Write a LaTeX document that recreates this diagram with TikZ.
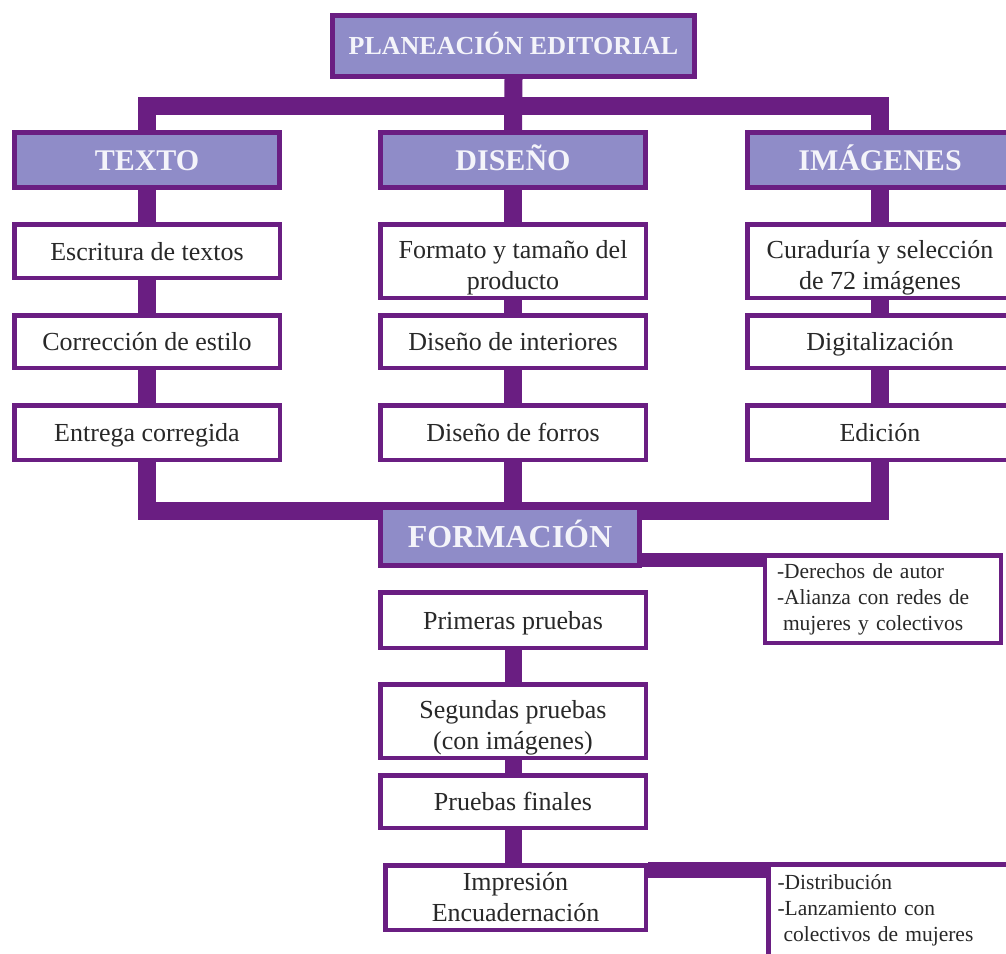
\documentclass[tikz,border=0pt]{standalone}
\usepackage{fontspec}
\setmainfont{Liberation Serif}
\definecolor{purp}{RGB}{106,30,130}
\definecolor{lav}{RGB}{143,140,200}
\definecolor{hdrtxt}{RGB}{244,244,250}
\definecolor{bodytxt}{RGB}{40,40,40}
\newcommand{\topstrut}{\rule{0pt}{32pt}}
\pgfdeclarelayer{bg}
\pgfsetlayers{bg,main}
\tikzset{
 hdr/.style={draw=purp, fill=lav, line width=5pt, text=hdrtxt, font=\fontsize{30}{34}\selectfont\bfseries, inner sep=0pt, text height=20pt, text depth=0pt},
 stepbox/.style={draw=purp, fill=white, line width=4.5pt, text=bodytxt, font=\fontsize{26}{31}\selectfont, align=center, inner sep=0pt, minimum width=265.5pt},
 oneline/.style={text height=18pt, text depth=0pt},
 conn/.style={draw=purp, line width=18pt},
 note/.style={draw=purp, fill=white, line width=4.5pt, text=bodytxt, font=\fontsize{21.5}{26}\selectfont, align=left, inner ysep=0pt}
}
\begin{document}
\begin{tikzpicture}[x=1pt,y=-1pt]
\useasboundingbox (0,0) rectangle (1006,953);
% headers
\node[hdr, font=\fontsize{26}{30}\selectfont\bfseries, text height=17pt, minimum width=362pt, minimum height=61pt] (plan) at (513.5,46) {PLANEACIÓN EDITORIAL};
\node[hdr, minimum width=265pt, minimum height=55pt] (texto) at (147,160) {TEXTO};
\node[hdr, minimum width=265pt, minimum height=55pt] (diseno) at (513,160) {DISEÑO};
\node[hdr, minimum width=265pt, minimum height=55pt] (imagenes) at (880,160) {IMÁGENES};
% column boxes
\node[stepbox, oneline, minimum height=53.5pt] (escritura) at (147,251) {Escritura de textos};
\node[stepbox, minimum height=73.5pt] (formato) at (513,261) {\topstrut Formato y tamaño del\\producto};
\node[stepbox, minimum height=73.5pt] (curaduria) at (880,261) {\topstrut Curaduría y selección\\de 72 imágenes};
\node[stepbox, oneline, minimum height=52.5pt] (correccion) at (147,341.5) {Corrección de estilo};
\node[stepbox, oneline, minimum height=52.5pt] (interiores) at (513,341.5) {Diseño de interiores};
\node[stepbox, oneline, minimum height=52.5pt] (digital) at (880,341.5) {Digitalización};
\node[stepbox, oneline, minimum height=54.5pt] (entrega) at (147,432.5) {Entrega corregida};
\node[stepbox, oneline, minimum height=54.5pt] (forros) at (513,432.5) {Diseño de forros};
\node[stepbox, oneline, minimum height=54.5pt] (edicion) at (880,432.5) {Edición};
% formacion
\node[hdr, font=\fontsize{32}{36}\selectfont\bfseries, text height=21pt, minimum width=259pt, minimum height=58pt] (formacion) at (510,536.5) {FORMACIÓN};
\node[note, inner xsep=12pt, text width=212pt, minimum height=87.5pt] (derechos) at (883,599) {-Derechos de autor\\-Alianza con redes de\\\hspace*{6pt}mujeres y colectivos};
\node[stepbox, oneline, minimum height=55.5pt] (primeras) at (513,620) {Primeras pruebas};
\node[stepbox, minimum height=73.5pt] (segundas) at (513,721) {\topstrut Segundas pruebas\\(con imágenes)};
\node[stepbox, oneline, minimum height=52.5pt] (finales) at (513,801.5) {Pruebas finales};
\node[stepbox, minimum width=260.5pt, minimum height=64.5pt] (impresion) at (515.5,897.5) {Impresión\\Encuadernación};
\node[note, inner xsep=9pt, text width=226pt, minimum height=91.5pt] (distrib) at (890.5,910) {-Distribución\\-Lanzamiento con\\\hspace*{6pt}colectivos de mujeres};
% connectors
\begin{pgfonlayer}{bg}
\coordinate (b1) at (513.5,106);
\coordinate (b2) at (513,511);
\coordinate (b3) at (0,560);
\coordinate (b4) at (0,870);
\draw[conn] (plan.south) -- (diseno.north);
\draw[conn] (texto.north) |- (b1) -| (imagenes.north);
\draw[conn] (texto.south) -- (escritura.north);
\draw[conn] (escritura.south) -- (correccion.north);
\draw[conn] (correccion.south) -- (entrega.north);
\draw[conn] (diseno.south) -- (formato.north);
\draw[conn] (formato.south) -- (interiores.north);
\draw[conn] (interiores.south) -- (forros.north);
\draw[conn] (imagenes.south) -- (curaduria.north);
\draw[conn] (curaduria.south) -- (digital.north);
\draw[conn] (digital.south) -- (edicion.north);
\draw[conn] (entrega.south) |- (b2) -| (edicion.south);
\draw[conn] (forros.south) -- (forros.south |- b2);
\draw[conn, line width=14pt] (formacion.east |- b3) -- (derechos.west |- b3);
\draw[conn, line width=17pt] (primeras.south) -- (segundas.north);
\draw[conn, line width=17pt] (segundas.south) -- (finales.north);
\draw[conn, line width=17pt] (finales.south) -- (finales.south |- impresion.north);
\draw[conn, line width=16pt] (impresion.east |- b4) -- (distrib.west |- b4);
\end{pgfonlayer}
\end{tikzpicture}
\end{document}
